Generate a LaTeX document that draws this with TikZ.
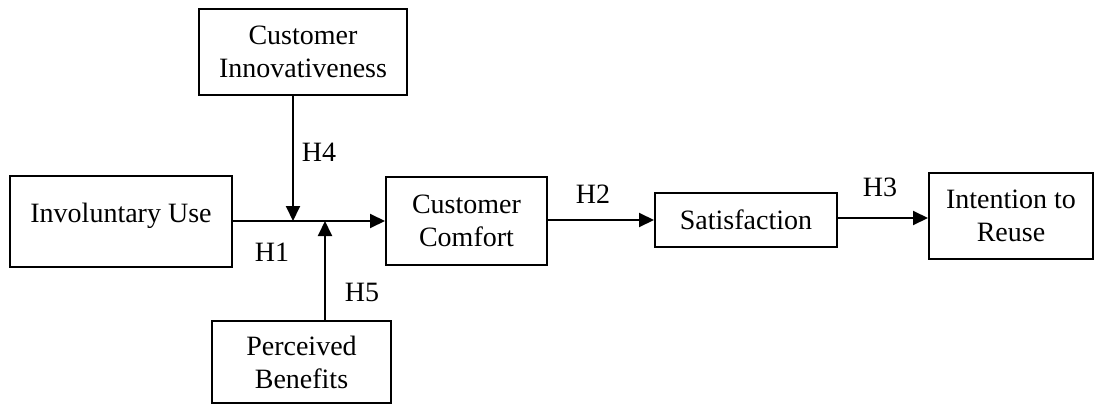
\documentclass[tikz,border=0pt]{standalone}
\usepackage{fontspec}
\setmainfont{Liberation Serif}
\usetikzlibrary{arrows.meta}
\begin{document}
\begin{tikzpicture}[x=1pt,y=-1pt,
  box/.style={draw,line width=2pt,align=center,inner sep=0pt,
    font=\fontsize{28}{33}\selectfont},
  lbl/.style={font=\fontsize{28}{33}\selectfont,inner sep=0pt},
  arr/.style={line width=2pt,-{Triangle[length=15pt,width=14pt]}}]
\useasboundingbox (0,0) rectangle (1095,404);
\node[box,minimum width=208pt,minimum height=86pt] (ci) at (303,52) {Customer\\Innovativeness};
\node[box,minimum width=222pt,minimum height=91pt,text height=20pt,text depth=19pt] (iu) at (121,221.5) {Involuntary Use};
\node[box,minimum width=161pt,minimum height=88pt] (cc) at (466.5,221) {Customer\\Comfort};
\node[box,minimum width=182pt,minimum height=54pt] (sat) at (746,220) {Satisfaction};
\node[box,minimum width=164pt,minimum height=86pt] (itr) at (1011,216) {Intention to\\Reuse};
\node[box,minimum width=179pt,minimum height=82pt] (pb) at (301.5,362) {Perceived\\Benefits};
\coordinate (j4) at (293,221);
\coordinate (j5) at (325,221);
\draw[arr] (iu.east |- j4) -- (cc.west |- j4);
\draw[arr] (ci.south -| j4) -- (j4);
\draw[arr] (pb.north -| j5) -- (j5);
\draw[arr] (cc.east |- sat.west) -- (sat.west);
\draw[arr] (sat.east |- 0,218) -- (itr.west |- 0,218);
\node[lbl] (h4) at (319,152) {H4};
\node[lbl] (h1) at (272,252) {H1};
\node[lbl] (h5) at (362,292) {H5};
\node[lbl] (h2) at (593,194) {H2};
\node[lbl] (h3) at (880,187) {H3};
\end{tikzpicture}
\end{document}
